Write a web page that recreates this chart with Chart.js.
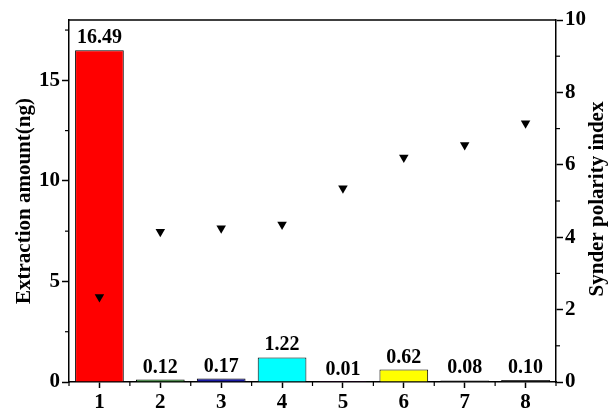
<!DOCTYPE html>
<html>
<head>
<meta charset="utf-8">
<script src="https://cdn.jsdelivr.net/npm/chart.js@4"></script>
<style>
  html, body { margin: 0; padding: 0; background: #fff; }
  #wrap { width: 609px; height: 410px; }
</style>
</head>
<body>
<div id="wrap"><canvas id="c" width="609" height="410"></canvas></div>
<script>
const categories = ['1', '2', '3', '4', '5', '6', '7', '8'];
const extractionAmount = [16.49, 0.12, 0.17, 1.22, 0.01, 0.62, 0.08, 0.10];
const snyderIndex = [2.35, 4.15, 4.25, 4.35, 5.35, 6.2, 6.55, 7.15];
const barColors = ['#ff0000', '#2a9a2a', '#1a1aa8', '#00ffff', '#ff00ff', '#ffff00', '#3a3a3a', '#3a3a3a'];
const leftMajorTicks = [0, 5, 10, 15];
const leftMinorTicks = [2.5, 7.5, 12.5, 17.5];
const rightMajorTicks = [0, 2, 4, 6, 8, 10];
const rightMinorTicks = [1, 3, 5, 7, 9];
const leftTitle = 'Extraction amount(ng)';
const rightTitle = 'Synder polarity index';

const FONT = "'Liberation Serif', 'Times New Roman', serif";

const framePlugin = {
  id: 'frame',
  afterDraw(chart) {
    const ctx = chart.ctx;
    const a = chart.chartArea;
    const xs = chart.scales.x, ys = chart.scales.y, ys1 = chart.scales.y1;
    ctx.save();
    ctx.strokeStyle = '#000';
    ctx.lineWidth = 1.5;
    ctx.beginPath();
    ctx.moveTo(a.left, a.top);
    ctx.lineTo(a.right, a.top);
    ctx.stroke();
    ctx.lineWidth = 1.2;
    for (let i = 0; i <= categories.length; i++) {
      const px = xs.getPixelForValue(i - 0.5);
      ctx.beginPath();
      ctx.moveTo(px, a.bottom);
      ctx.lineTo(px, a.bottom + 4);
      ctx.stroke();
    }
    leftMinorTicks.forEach(v => {
      const py = ys.getPixelForValue(v);
      ctx.beginPath();
      ctx.moveTo(a.left - 4, py);
      ctx.lineTo(a.left, py);
      ctx.stroke();
    });
    rightMinorTicks.forEach(v => {
      const py = ys1.getPixelForValue(v);
      ctx.beginPath();
      ctx.moveTo(a.right, py);
      ctx.lineTo(a.right + 4, py);
      ctx.stroke();
    });
    const meta = chart.getDatasetMeta(1);
    ctx.fillStyle = '#000';
    ctx.font = 'bold 20px ' + FONT;
    ctx.textAlign = 'center';
    ctx.textBaseline = 'alphabetic';
    meta.data.forEach((bar, i) => {
      ctx.fillText(extractionAmount[i].toFixed(2), bar.x, bar.y - 7);
    });
    ctx.save();
    ctx.translate(598, (a.top + a.bottom) / 2 - 2);
    ctx.rotate(-Math.PI / 2);
    ctx.font = 'bold 21px ' + FONT;
    ctx.textAlign = 'center';
    ctx.textBaseline = 'middle';
    ctx.fillText(rightTitle, 0, 0);
    ctx.restore();
    ctx.restore();
  }
};

new Chart(document.getElementById('c'), {
  data: {
    labels: categories,
    datasets: [
      {
        type: 'line',
        label: rightTitle,
        data: snyderIndex,
        yAxisID: 'y1',
        showLine: false,
        pointStyle: 'triangle',
        rotation: 180,
        pointRadius: 5.5,
        pointBackgroundColor: '#000',
        pointBorderColor: '#000',
        pointBorderWidth: 0,
        order: 0
      },
      {
        type: 'bar',
        label: leftTitle,
        data: extractionAmount,
        yAxisID: 'y',
        backgroundColor: barColors,
        borderColor: '#000',
        borderWidth: 1,
        barPercentage: 0.8,
        categoryPercentage: 1.0,
        order: 1
      }
    ]
  },
  options: {
    responsive: false,
    animation: false,
    devicePixelRatio: 1,
    layout: { padding: { top: 20, left: 0, right: 0, bottom: 0 } },
    plugins: { legend: { display: false }, tooltip: { enabled: false } },
    scales: {
      x: {
        type: 'category',
        offset: true,
        grid: { offset: false, drawOnChartArea: false, tickLength: 6, tickColor: '#000', tickWidth: 1.5 },
        border: { color: '#000', width: 1.5 },
        ticks: { color: '#000', font: { family: FONT, size: 21, weight: 'bold' }, padding: 2, maxRotation: 0 },
        afterFit(scale) { scale.height = 28; }
      },
      y: {
        type: 'linear',
        position: 'left',
        min: 0,
        max: 18,
        afterBuildTicks(scale) { scale.ticks = leftMajorTicks.map(v => ({ value: v })); },
        grid: { drawOnChartArea: false, tickLength: 7, tickColor: '#000', tickWidth: 1.5 },
        border: { color: '#000', width: 1.5 },
        ticks: { color: '#000', font: { family: FONT, size: 21, weight: 'bold' }, padding: 2 },
        title: { display: true, text: leftTitle, color: '#000', font: { family: FONT, size: 21, weight: 'bold' }, padding: { top: 12, bottom: 0 } },
        afterFit(scale) { scale.width = 69; }
      },
      y1: {
        type: 'linear',
        position: 'right',
        min: 0,
        max: 10,
        afterBuildTicks(scale) { scale.ticks = rightMajorTicks.map(v => ({ value: v })); },
        grid: { drawOnChartArea: false, tickLength: 7, tickColor: '#000', tickWidth: 1.5 },
        border: { color: '#000', width: 1.5 },
        ticks: { color: '#000', font: { family: FONT, size: 21, weight: 'bold' }, padding: 2 },
        afterFit(scale) { scale.width = 53; }
      }
    }
  },
  plugins: [framePlugin]
});
</script>
</body>
</html>
